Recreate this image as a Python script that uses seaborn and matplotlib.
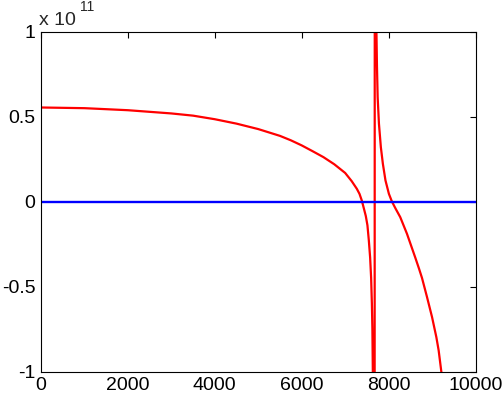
import numpy as np
import pandas as pd
import seaborn as sns
import matplotlib
matplotlib.use("Agg")
import matplotlib.pyplot as plt

# Red curve (values in units of 1e11)
red_x = [0, 1000, 2000, 3000, 3500, 4000, 4500, 5000, 5500, 5750, 6000, 6250,
         6500, 6750, 7000, 7150, 7268, 7330, 7383, 7430, 7475, 7513, 7545, 7575,
         7598, 7615, 7627, 7637, 7660, 7700, 7720, 7732, 7748, 7778, 7822, 7868,
         7928, 8007, 8076, 8159, 8268, 8423, 8614, 8700, 8769, 8885, 9000, 9099, 9152,
         9215, 9260]
red_y = [0.553, 0.549, 0.537, 0.518, 0.505, 0.484, 0.458, 0.426, 0.386, 0.36, 0.33, 0.296,
         0.261, 0.219, 0.168, 0.12, 0.075, 0.045, 0.006, -0.04, -0.085, -0.14, -0.229, -0.33,
         -0.45, -0.6, -0.75, -1.0, -20.0, 20.0, 1.0, 0.8, 0.614, 0.457, 0.319, 0.222,
         0.124, 0.045, 0.0, -0.041, -0.092, -0.19, -0.33, -0.395, -0.45, -0.563, -0.68, -0.798, -0.876,
         -1.004, -1.08]

# Blue zero line
blue_x = [0, 10000]
blue_y = [0, 0]

xticks = [0, 2000, 4000, 6000, 8000, 10000]
xtick_labels = ["0", "2000", "4000", "6000", "8000", "10000"]
yticks = [-1, -0.5, 0, 0.5, 1]
ytick_labels = ["-1", "-0.5", "0", "0.5", "1"]

sns.set_style("white")
plt.rcParams['font.family'] = ['Liberation Sans', 'DejaVu Sans']

fig = plt.figure(figsize=(5.04, 3.94), dpi=100)
ax = fig.add_axes([41/504, 1 - 371.5/394, (475.5 - 41)/504, (371.5 - 31.5)/394])

red_df = pd.DataFrame({"x": red_x, "y": red_y})
blue_df = pd.DataFrame({"x": blue_x, "y": blue_y})
sns.lineplot(data=red_df, x="x", y="y", sort=False, estimator=None, color="#ff0000", lw=1.6, ax=ax)
sns.lineplot(data=blue_df, x="x", y="y", sort=False, estimator=None, color="#0000ff", lw=1.7, ax=ax)

ax.set_xlim(0, 10000)
ax.set_ylim(-1, 1)
ax.set_xticks(xticks)
ax.set_xticklabels(xtick_labels)
ax.set_yticks(yticks)
ax.set_yticklabels(ytick_labels)
ax.set_xlabel("")
ax.set_ylabel("")
ax.tick_params(direction="in", length=4, width=0.8, top=True, right=True,
               labelsize=14, colors="black")
ax.tick_params(axis="x", pad=4)
ax.tick_params(axis="y", pad=4)
for s in ax.spines.values():
    s.set_visible(True)
    s.set_color("black")
    s.set_linewidth(0.8)

fig.text(39/504, 1 - 25/394, "x 10", fontsize=14, ha="left", va="baseline")
fig.text(80/504, 1 - 11/394, "11", fontsize=10, ha="left", va="baseline")

fig.savefig("out.png", dpi=100)
